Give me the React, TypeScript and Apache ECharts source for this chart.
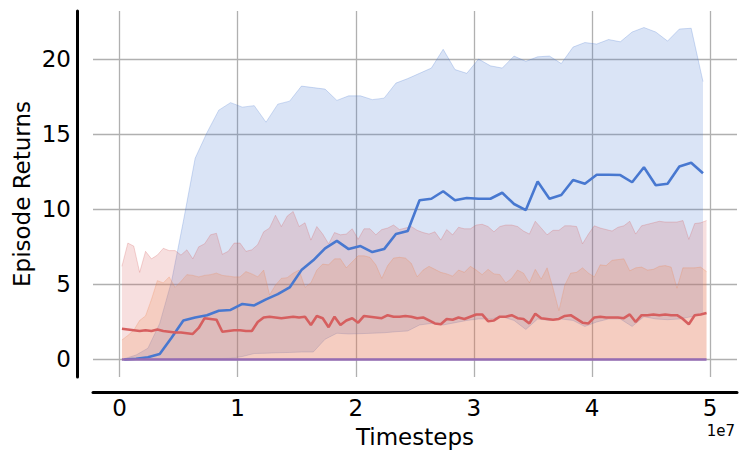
import React, { useEffect, useRef } from 'react';
import * as echarts from 'echarts';

// timesteps are stored in millions
const STEP_UNIT = 1e6;

const blueStepsM = [
  0.4, 1.4, 2.4, 3.4, 4.4, 5.4, 6.4, 7.4, 8.4, 9.4,
  10.4, 11.4, 12.4, 13.4, 14.4, 15.4, 16.4, 17.4, 18.4, 19.4,
  20.4, 21.4, 22.4, 23.4, 24.4, 25.4, 26.4, 27.4, 28.4, 29.4,
  30.4, 31.4, 32.4, 33.4, 34.4, 35.4, 36.4, 37.4, 38.4, 39.4,
  40.4, 41.4, 42.4, 43.4, 44.4, 45.4, 46.4, 47.4, 48.4, 49.4,
];
const blueMean = [
  0, 0.05, 0.15, 0.37, 1.45, 2.6, 2.8, 2.95, 3.25, 3.3,
  3.7, 3.6, 4.0, 4.35, 4.8, 5.95, 6.6, 7.4, 7.9, 7.35,
  7.55, 7.15, 7.35, 8.35, 8.55, 10.6, 10.7, 11.2, 10.6, 10.75,
  10.7, 10.7, 11.1, 10.35, 9.95, 11.85, 10.7, 10.95, 11.95, 11.7,
  12.3, 12.3, 12.28, 11.8, 12.8, 11.6, 11.7, 12.85, 13.1, 12.4,
];
const blueUpper = [
  0.05, 0.3, 0.75, 2.4, 5.2, 9.2, 13.4, 15.1, 16.6, 17.1,
  16.8, 16.9, 15.8, 17.0, 17.2, 18.2, 18.1, 18.0, 17.25, 17.55,
  17.55, 17.3, 17.4, 18.4, 18.7, 19.05, 19.4, 20.65, 19.3, 19.05,
  20.0, 19.55, 19.4, 20.2, 19.85, 20.15, 20.2, 19.7, 20.8, 21.1,
  21.0, 21.3, 21.15, 21.8, 22.1, 21.8, 21.2, 22.0, 22.05, 18.5,
];
const blueLower = [
  0, 0, 0, 0, 0, 0.02, 0.03, 0.05, 0.06, 0.08,
  0.2, 0.4, 0.42, 0.45, 0.47, 0.5, 0.5, 1.35, 1.75, 1.7,
  1.72, 1.75, 1.78, 1.85, 1.9, 2.3, 2.4, 2.3, 2.45, 2.6,
  2.7, 2.7, 2.85, 2.6, 2.0, 2.7, 2.6, 2.7, 2.6, 2.2,
  2.5, 2.7, 2.7, 2.2, 2.85, 2.7, 2.65, 2.7, 2.85, 3.0,
];

const redStepsM = [
  0.2, 0.7, 1.2, 1.7, 2.2, 2.7, 3.2, 3.7, 4.2, 4.7,
  5.2, 5.7, 6.2, 6.7, 7.2, 7.7, 8.2, 8.7, 9.2, 9.7,
  10.2, 10.7, 11.2, 11.7, 12.2, 12.7, 13.2, 13.7, 14.2, 14.7,
  15.2, 15.7, 16.2, 16.7, 17.2, 17.7, 18.2, 18.7, 19.2, 19.7,
  20.2, 20.7, 21.2, 21.7, 22.2, 22.7, 23.2, 23.7, 24.2, 24.7,
  25.2, 25.7, 26.2, 26.7, 27.2, 27.7, 28.2, 28.7, 29.2, 29.7,
  30.2, 30.7, 31.2, 31.7, 32.2, 32.7, 33.2, 33.7, 34.2, 34.7,
  35.2, 35.7, 36.2, 36.7, 37.2, 37.7, 38.2, 38.7, 39.2, 39.7,
  40.2, 40.7, 41.2, 41.7, 42.2, 42.7, 43.2, 43.7, 44.2, 44.7,
  45.2, 45.7, 46.2, 46.7, 47.2, 47.7, 48.2, 48.7, 49.2, 49.7,
];
const redMean = [
  2.05, 2.0, 1.95, 1.9, 1.95, 1.9, 2.0, 1.9, 1.85, 1.8,
  1.8, 1.75, 1.7, 2.1, 2.75, 2.7, 2.65, 1.85, 1.9, 1.95,
  1.95, 1.9, 1.9, 2.5, 2.8, 2.85, 2.8, 2.75, 2.8, 2.85,
  2.8, 2.85, 2.3, 2.9, 2.75, 2.15, 2.85, 2.3, 2.6, 2.75,
  2.45, 2.9, 2.85, 2.8, 2.75, 2.95, 2.85, 2.85, 2.9, 2.85,
  2.75, 2.8, 2.6, 2.4, 2.35, 2.7, 2.65, 2.8, 2.7, 2.85,
  3.0, 3.0, 2.55, 2.6, 2.85, 2.85, 2.95, 2.75, 2.7, 2.4,
  3.05, 2.75, 2.7, 2.65, 2.7, 2.9, 2.95, 2.7, 2.45, 2.4,
  2.8, 2.85, 2.8, 2.8, 2.8, 2.75, 3.0, 2.5, 2.95, 2.95,
  3.0, 2.95, 3.0, 2.95, 2.95, 2.7, 2.35, 2.95, 3.0, 3.1,
];
const redUpper = [
  6.2, 7.75, 7.55, 5.8, 7.2, 6.7, 6.95, 7.4, 7.25, 7.25,
  6.95, 7.3, 6.7, 7.5, 7.7, 8.3, 8.4, 7.0, 7.2, 7.75,
  7.75, 7.2, 7.3, 7.65, 8.5, 8.75, 9.6, 8.85, 9.55, 9.85,
  8.85, 9.1, 7.95, 8.85, 8.35, 7.7, 8.45, 8.3, 8.35, 8.7,
  8.0, 8.7, 8.7, 8.3, 8.65, 8.75, 8.95, 8.65, 8.75, 8.85,
  8.6, 8.45, 8.35, 8.5, 7.95, 8.65, 8.3, 8.8, 8.7, 8.7,
  8.95, 9.0, 8.85, 8.5, 8.85, 8.95, 8.95, 8.85, 8.55, 8.35,
  9.2, 8.75, 8.3, 8.6, 8.6, 8.9, 8.9, 8.85, 7.7, 8.35,
  8.9, 8.75, 8.65, 8.55, 8.8, 8.9, 9.2, 8.35, 8.9, 9.0,
  9.1, 9.2, 9.15, 9.15, 9.15, 9.25, 8.0, 9.05, 9.1, 9.25,
];
const orangeUpper = [
  1.3, 1.6, 1.95, 2.6, 2.9, 4.0, 5.25, 5.1, 5.5, 4.8,
  5.2, 5.65, 5.6, 5.5, 5.6, 5.65, 5.75, 5.6, 5.55, 5.5,
  5.5, 5.85, 5.7, 5.5, 5.95, 4.3, 4.95, 5.4, 5.45, 5.75,
  5.95, 4.8, 5.1, 5.95, 6.35, 6.3, 6.7, 6.7, 6.1, 6.5,
  6.9, 6.9, 6.8, 6.3, 5.4, 6.25, 6.75, 6.8, 6.75, 6.4,
  5.5, 5.95, 6.2, 6.0, 5.8, 5.7, 5.55, 5.95, 5.8, 6.2,
  5.95, 5.65, 6.0, 5.7, 5.65, 5.1, 5.4, 5.95, 5.75, 5.1,
  6.0, 5.35, 6.1, 4.75, 3.25, 4.95, 5.75, 5.8, 6.1, 5.75,
  5.5, 6.3, 6.25, 6.6, 6.65, 6.7, 5.9, 6.1, 6.15, 5.95,
  6.0, 6.2, 6.25, 6.15, 4.75, 6.1, 6.1, 6.1, 6.15, 5.85,
];
const purpleMean = [
  0, 0, 0, 0, 0, 0, 0, 0, 0, 0,
  0, 0, 0, 0, 0, 0, 0, 0, 0, 0,
  0, 0, 0, 0, 0, 0, 0, 0, 0, 0,
  0, 0, 0, 0, 0, 0, 0, 0, 0, 0,
  0, 0, 0, 0, 0, 0, 0, 0, 0, 0,
  0, 0, 0, 0, 0, 0, 0, 0, 0, 0,
  0, 0, 0, 0, 0, 0, 0, 0, 0, 0,
  0, 0, 0, 0, 0, 0, 0, 0, 0, 0,
  0, 0, 0, 0, 0, 0, 0, 0, 0, 0,
  0, 0, 0, 0, 0, 0, 0, 0, 0, 0,
];

const xTickValues = [0, 1e7, 2e7, 3e7, 4e7, 5e7];
const xTickLabels = ['0', '1', '2', '3', '4', '5'];
const yTickValues = [0, 5, 10, 15, 20];
const yTickLabels = ['0', '5', '10', '15', '20'];
const xTitle = 'Timesteps';
const yTitle = 'Episode Returns';
const xOffsetText = '1e7';

const BLUE = '#4878d0';
const RED = '#d65f5f';
const ORANGE = '#ee854a';
const PURPLE = '#956cb4';
const FONT = '"DejaVu Sans", sans-serif';
const TEXT = '#000';

export default function App() {
  const ref = useRef<HTMLDivElement>(null);

  useEffect(() => {
    if (!ref.current) return;
    const chart = echarts.init(ref.current, null, { renderer: 'svg' });

    const pairs = (xs: number[], ys: number[]) => xs.map((x, i) => [x * STEP_UNIT, ys[i]]);

    const labelFor = (values: number[], labels: string[]) => (v: number) => {
      const idx = values.findIndex((t) => Math.abs(t - v) < 1e-6 * Math.max(1, Math.abs(t)));
      return idx >= 0 ? labels[idx] : '';
    };

    const blueBandRender = (params: any, api: any) => {
      if (params.dataIndex !== 0) return null;
      const top = blueStepsM.map((x, i) => api.coord([x * STEP_UNIT, blueUpper[i]]));
      const bottom = blueStepsM.map((x, i) => api.coord([x * STEP_UNIT, blueLower[i]]));
      const poly = top.concat(bottom.slice().reverse());
      return {
        type: 'group',
        children: [
          {
            type: 'polygon',
            shape: { points: poly },
            style: { fill: 'rgba(72,120,208,0.2)', stroke: 'none' },
          },
          {
            type: 'polyline',
            shape: { points: top },
            style: { fill: 'none', stroke: 'rgba(72,120,208,0.25)', lineWidth: 1 },
          },
          {
            type: 'polyline',
            shape: { points: bottom },
            style: { fill: 'none', stroke: 'rgba(72,120,208,0.25)', lineWidth: 1 },
          },
        ],
      };
    };

    const option: any = {
      animation: false,
      backgroundColor: '#ffffff',
      grid: { left: 93, right: 11, top: 11, bottom: 85, containLabel: false },
      xAxis: {
        type: 'value',
        min: -2.25e6,
        max: 52.28e6,
        minInterval: 1e7,
        maxInterval: 1e7,
        offset: 15,
        axisLine: { show: true, onZero: false, lineStyle: { color: '#000', width: 3 } },
        axisTick: { show: false },
        axisLabel: {
          show: true,
          showMinLabel: false,
          showMaxLabel: false,
          margin: 4,
          fontSize: 23,
          fontFamily: FONT,
          color: TEXT,
          formatter: labelFor(xTickValues, xTickLabels),
        },
        splitLine: {
          show: true,
          showMinLine: false,
          showMaxLine: false,
          lineStyle: { color: '#b0b0b0', width: 1.3 },
        },
      },
      yAxis: {
        type: 'value',
        min: -1.165,
        max: 23.2,
        minInterval: 5,
        maxInterval: 5,
        offset: 16,
        axisLine: { show: true, onZero: false, lineStyle: { color: '#000', width: 3 } },
        axisTick: { show: false },
        axisLabel: {
          show: true,
          showMinLabel: false,
          showMaxLabel: false,
          margin: 6,
          fontSize: 23,
          fontFamily: FONT,
          color: TEXT,
          formatter: labelFor(yTickValues, yTickLabels),
        },
        splitLine: {
          show: true,
          showMinLine: false,
          showMaxLine: false,
          lineStyle: { color: '#b0b0b0', width: 1.3 },
        },
      },
      graphic: [
        {
          type: 'text',
          x: 22,
          y: 194,
          rotation: Math.PI / 2,
          style: {
            text: yTitle,
            font: `23px ${FONT}`,
            fill: TEXT,
            textAlign: 'center',
            textVerticalAlign: 'middle',
          },
        },
        {
          type: 'text',
          x: 415,
          y: 437,
          style: {
            text: xTitle,
            font: `23px ${FONT}`,
            fill: TEXT,
            textAlign: 'center',
            textVerticalAlign: 'middle',
          },
        },
        {
          type: 'text',
          x: 735,
          y: 431,
          style: {
            text: xOffsetText,
            font: `15px ${FONT}`,
            fill: TEXT,
            textAlign: 'right',
            textVerticalAlign: 'middle',
          },
        },
      ],
      series: [
        {
          name: 'blueBand',
          type: 'custom',
          data: blueStepsM.map((x, i) => [x * STEP_UNIT, blueUpper[i], blueLower[i]]),
          encode: { x: 0, y: [1, 2] },
          renderItem: blueBandRender,
          silent: true,
          clip: true,
        },
        {
          name: 'redBand',
          type: 'line',
          data: pairs(redStepsM, redUpper),
          symbol: 'none',
          silent: true,
          lineStyle: { color: RED, opacity: 0.25, width: 1 },
          areaStyle: { color: RED, opacity: 0.2, origin: 'auto' },
        },
        {
          name: 'orangeBand',
          type: 'line',
          data: pairs(redStepsM, orangeUpper),
          symbol: 'none',
          silent: true,
          lineStyle: { color: ORANGE, opacity: 0.25, width: 1 },
          areaStyle: { color: ORANGE, opacity: 0.2, origin: 'auto' },
        },
        {
          name: 'blue',
          type: 'line',
          data: pairs(blueStepsM, blueMean),
          symbol: 'none',
          lineStyle: { color: BLUE, width: 2.6 },
        },
        {
          name: 'red',
          type: 'line',
          data: pairs(redStepsM, redMean),
          symbol: 'none',
          lineStyle: { color: RED, width: 2.6 },
        },
        {
          name: 'purple',
          type: 'line',
          data: pairs(redStepsM, purpleMean),
          symbol: 'none',
          lineStyle: { color: PURPLE, width: 2.6 },
        },
      ],
    };

    chart.setOption(option);
    return () => chart.dispose();
  }, []);

  return (
    <div
      ref={ref}
      style={{ position: 'fixed', left: 0, top: 0, width: 748, height: 462, background: '#fff' }}
    />
  );
}
